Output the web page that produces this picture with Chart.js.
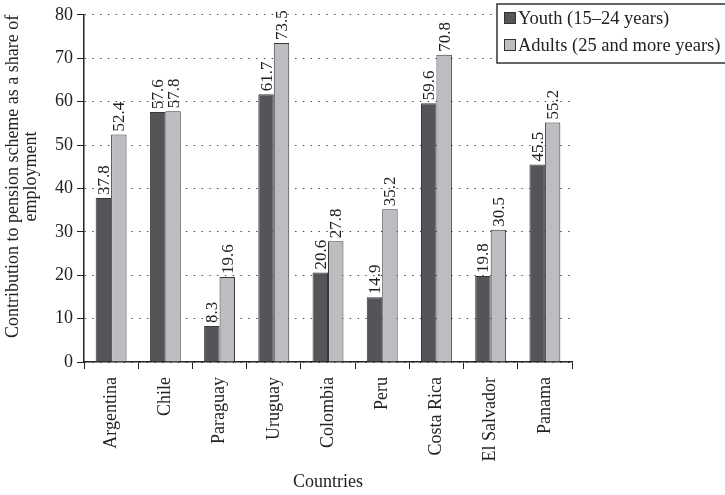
<!DOCTYPE html>
<html>
<head>
<meta charset="utf-8">
<script src="https://cdn.jsdelivr.net/npm/chart.js@4/dist/chart.umd.min.js"></script>
<style>
  html, body { margin: 0; padding: 0; background: #fff; }
  #wrap { width: 725px; height: 495px; position: relative; }
</style>
</head>
<body>
<div id="wrap"><canvas id="c" width="725" height="495"></canvas></div>
<script>
// Contribution to a pension scheme as a share of employment, by age group
const countries = ['Argentina', 'Chile', 'Paraguay', 'Uruguay', 'Colombia', 'Peru', 'Costa Rica', 'El Salvador', 'Panama'];
const youth  = [37.8, 57.6, 8.3, 61.7, 20.6, 14.9, 59.6, 19.8, 45.5];
const adults = [52.4, 57.8, 19.6, 73.5, 27.8, 35.2, 70.8, 30.5, 55.2];
const seriesNames = ['Youth (15\u201324 years)', 'Adults (25 and more years)'];
const yTicks = [0, 10, 20, 30, 40, 50, 60, 70, 80];
const yTitle = ['Contribution to pension scheme as a share of', 'employment'];
const xTitle = 'Countries';

const SERIF = '"Liberation Serif", "DejaVu Serif", serif';
const INK = '#222';

// Value labels, rotated, just above each bar
const valueLabels = {
  id: 'valueLabels',
  afterDatasetsDraw(chart) {
    const ctx = chart.ctx;
    ctx.save();
    ctx.fillStyle = INK;
    ctx.font = '17px ' + SERIF;
    ctx.textAlign = 'left';
    ctx.textBaseline = 'middle';
    chart.data.datasets.forEach((ds, di) => {
      chart.getDatasetMeta(di).data.forEach((bar, i) => {
        ctx.save();
        ctx.translate(bar.x, bar.y - 3);
        ctx.rotate(-Math.PI / 2);
        ctx.fillText(ds.data[i].toFixed(1), 0, 1);
        ctx.restore();
      });
    });
    ctx.restore();
  }
};

// Axis titles and boxed legend
const decorations = {
  id: 'decorations',
  afterDraw(chart) {
    const ctx = chart.ctx;
    const area = chart.chartArea;
    ctx.save();
    ctx.fillStyle = INK;
    ctx.font = '18px ' + SERIF;
    ctx.textAlign = 'center';
    ctx.textBaseline = 'middle';

    // y-axis title (two lines)
    ctx.save();
    ctx.translate(0, (area.top + area.bottom) / 2 - 12);
    ctx.rotate(-Math.PI / 2);
    ctx.fillText(yTitle[0], 0, 13);
    ctx.fillText(yTitle[1], 0, 31);
    ctx.restore();

    // x-axis title
    ctx.fillText(xTitle, (area.left + area.right) / 2, 482);

    // legend
    const lx = 497, ly = 4, lw = 232, lh = 59;
    ctx.fillStyle = '#fff';
    ctx.fillRect(lx, ly, lw, lh);
    ctx.strokeStyle = '#333';
    ctx.lineWidth = 1.5;
    ctx.strokeRect(lx, ly, lw, lh);
    ctx.textAlign = 'left';
    ctx.font = '18.5px ' + SERIF;
    chart.data.datasets.forEach((ds, i) => {
      const cy = 18 + i * 27;
      ctx.fillStyle = ds.backgroundColor;
      ctx.fillRect(504, cy - 6, 12, 12);
      ctx.strokeStyle = '#333';
      ctx.lineWidth = 1;
      ctx.strokeRect(504.5, cy - 5.5, 11, 11);
      ctx.fillStyle = INK;
      ctx.fillText(ds.label, 518, cy + 1);
    });
    ctx.restore();
  }
};

new Chart(document.getElementById('c'), {
  type: 'bar',
  data: {
    labels: countries,
    datasets: [
      { label: seriesNames[0], data: youth,  backgroundColor: '#545558', borderColor: '#383838', borderWidth: 1 },
      { label: seriesNames[1], data: adults, backgroundColor: '#bcbdc1', borderColor: '#383838', borderWidth: 1 }
    ]
  },
  options: {
    responsive: false,
    animation: false,
    devicePixelRatio: 1,
    layout: { padding: { left: 0, right: 153, top: 14, bottom: 0 } },
    datasets: { bar: { categoryPercentage: 0.57, barPercentage: 1.0 } },
    plugins: { legend: { display: false }, tooltip: { enabled: false } },
    scales: {
      x: {
        grid: { offset: true, drawOnChartArea: false, drawTicks: true, tickLength: 7, color: '#222', tickColor: '#222', lineWidth: 1 },
        border: { display: true, color: '#222', width: 1.5 },
        ticks: {
          color: INK, font: { family: SERIF, size: 18 },
          minRotation: 90, maxRotation: 90, autoSkip: false, padding: 8
        },
        afterFit(scale) { scale.height = 133; }
      },
      y: {
        min: 0, max: 80,
        afterBuildTicks(scale) { scale.ticks = yTicks.map(v => ({ value: v })); },
        grid: { color: '#444', lineWidth: 1, tickLength: 7, tickColor: '#222', tickBorderDash: [] },
        border: { display: true, color: '#222', width: 1.5, dash: [1.4, 6.4] },
        ticks: { color: INK, font: { family: SERIF, size: 18 }, padding: 4 },
        afterFit(scale) { scale.width = 84; }
      }
    }
  },
  plugins: [valueLabels, decorations]
});
</script>
</body>
</html>
